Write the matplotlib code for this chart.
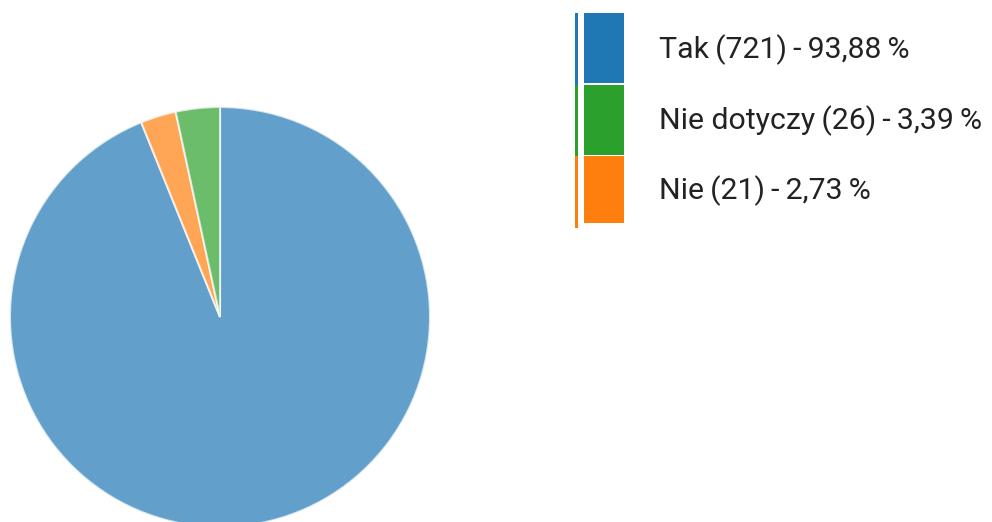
import matplotlib
matplotlib.use("Agg")
import matplotlib.pyplot as plt
from matplotlib.patches import Rectangle

plt.rcParams['font.family'] = ['Roboto', 'DejaVu Sans']

# Survey answers (pie order, clockwise from 12 o'clock)
categories = ["Tak", "Nie", "Nie dotyczy"]
counts = [721, 21, 26]
percent_labels = ["93,88", "2,73", "3,39"]
colors = ["#1f77b4", "#ff7f0e", "#2ca02c"]

# Legend order
legend_order = ["Tak", "Nie dotyczy", "Nie"]

W, H = 992, 522
fig = plt.figure(figsize=(W / 100, H / 100), dpi=100)

# Pie axes: centre (220, 317) px, radius 210 px
cx, cy, r = 220, 317, 210
ax = fig.add_axes([(cx - r) / W, (H - cy - r) / H, 2 * r / W, 2 * r / H])
ax.pie(counts, colors=colors, startangle=90, counterclock=False, radius=1,
       wedgeprops=dict(alpha=0.7, edgecolor="white", linewidth=1.5))
ax.set_xlim(-1, 1)
ax.set_ylim(-1, 1)
ax.set_axis_off()

# Legend: coloured bar + swatches + labels, drawn in pixel coordinates
lax = fig.add_axes([0, 0, 1, 1])
lax.set_xlim(0, W)
lax.set_ylim(H, 0)
lax.set_axis_off()

top, step = 13, 71.7
for i, name in enumerate(legend_order):
    k = categories.index(name)
    y0 = top + i * step
    lax.add_patch(Rectangle((574.5, y0), 3, step, facecolor=colors[k],
                            edgecolor="none"))
    h = step - 1.5 if i < len(legend_order) - 1 else step - 5
    lax.add_patch(Rectangle((584, y0), 39.5, h, facecolor=colors[k],
                            edgecolor="none"))
    label = f"{name}\u2009({counts[k]})\u2009-\u2009{percent_labels[k]}\u2009%"
    lax.text(659, 58.3 + i * 70.5, label,
             fontsize=21.8, color="#222222", va="baseline", ha="left")

fig.savefig("out.png", dpi=100)
